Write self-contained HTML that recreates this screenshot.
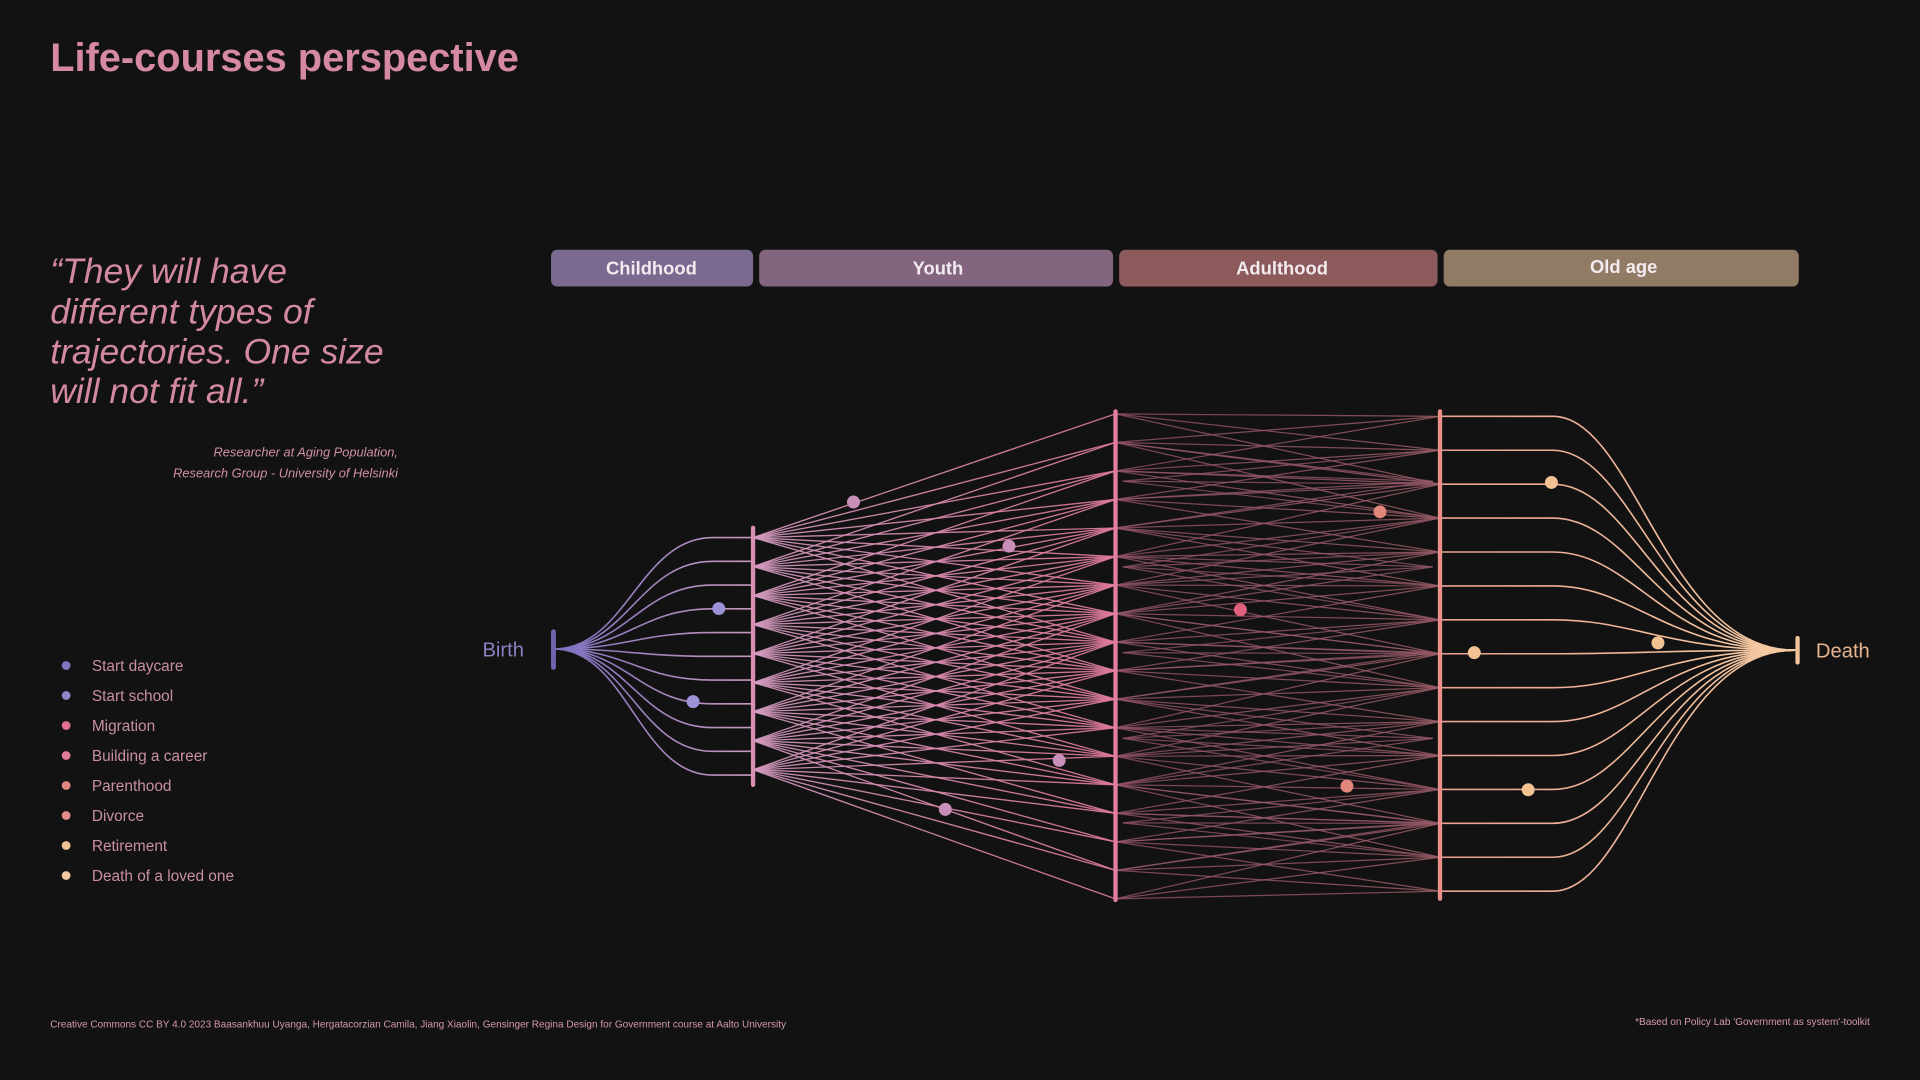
<!DOCTYPE html>
<html><head><meta charset="utf-8"><style>
html,body{margin:0;padding:0;background:#121212;width:1920px;height:1080px;overflow:hidden}
svg{display:block}
text{font-family:"Liberation Sans",sans-serif}
</style></head><body>
<svg id="s" width="1920" height="1080" viewBox="0 0 1568 882" xmlns="http://www.w3.org/2000/svg">
<defs>
<linearGradient id="gc" x1="452" y1="0" x2="615" y2="0" gradientUnits="userSpaceOnUse"><stop offset="0" stop-color="#7d70c0"/><stop offset="1" stop-color="#c898bc"/></linearGradient>
<linearGradient id="gy" x1="615" y1="0" x2="911" y2="0" gradientUnits="userSpaceOnUse"><stop offset="0" stop-color="#d39ac0"/><stop offset="1" stop-color="#e07a9c"/></linearGradient>
<linearGradient id="ga" x1="911" y1="0" x2="1176" y2="0" gradientUnits="userSpaceOnUse"><stop offset="0" stop-color="#94506a"/><stop offset="1" stop-color="#a06068"/></linearGradient>
<linearGradient id="go" x1="1176" y1="0" x2="1468" y2="0" gradientUnits="userSpaceOnUse"><stop offset="0" stop-color="#eaa090"/><stop offset="1" stop-color="#f5cca2"/></linearGradient>
</defs>
<rect width="1568" height="882" fill="#121212"/>
<text x="41" y="58" font-size="32.5" font-weight="bold" fill="#d68aa2">Life-courses perspective</text>
<g font-size="29" font-style="italic" fill="#d48a9e">
<text x="41" y="231">“They will have</text>
<text x="41" y="264">different types of</text>
<text x="41" y="297">trajectories. One size</text>
<text x="41" y="329">will not fit all.”</text>
</g>
<g font-size="10.5" font-style="italic" fill="#d090a4" text-anchor="end">
<text x="325" y="373">Researcher at Aging Population,</text>
<text x="325" y="390">Research Group - University of Helsinki</text>
</g>
<g font-size="12.6" fill="#c8909e">
<circle cx="54" cy="543.5" r="3.6" fill="#7f74bd"/><text x="75" y="548">Start daycare</text>
<circle cx="54" cy="568" r="3.6" fill="#8f86c9"/><text x="75" y="572.5">Start school</text>
<circle cx="54" cy="592.5" r="3.6" fill="#e0708f"/><text x="75" y="597">Migration</text>
<circle cx="54" cy="617" r="3.6" fill="#e07c98"/><text x="75" y="621.5">Building a career</text>
<circle cx="54" cy="641.5" r="3.6" fill="#e38680"/><text x="75" y="646">Parenthood</text>
<circle cx="54" cy="666" r="3.6" fill="#e68c8c"/><text x="75" y="670.5">Divorce</text>
<circle cx="54" cy="690.5" r="3.6" fill="#f0c294"/><text x="75" y="695">Retirement</text>
<circle cx="54" cy="715" r="3.6" fill="#f2c8a0"/><text x="75" y="719.5">Death of a loved one</text>
</g>
<text x="41" y="839" font-size="8.2" fill="#d69aa8">Creative Commons CC BY 4.0 2023 Baasankhuu Uyanga, Hergatacorzian Camila, Jiang Xiaolin, Gensinger Regina Design for Government course at Aalto University</text>
<text x="1527" y="837" font-size="8.2" fill="#d69aa8" text-anchor="end">*Based on Policy Lab 'Government as system'-toolkit</text>
<g font-size="15" font-weight="bold" fill="#f2ecf0" text-anchor="middle">
<rect x="450" y="204" width="165" height="30" rx="5" fill="#7a6a90"/><text x="532" y="224">Childhood</text>
<rect x="620" y="204" width="289" height="30" rx="5" fill="#846580"/><text x="766" y="224">Youth</text>
<rect x="914" y="204" width="260" height="30" rx="5" fill="#8d5a5c"/><text x="1047" y="224">Adulthood</text>
<rect x="1179" y="204" width="290" height="30" rx="5" fill="#917b65"/><text x="1326" y="223">Old age</text>
</g>
<text x="394" y="536" font-size="16.5" fill="#8a80c2">Birth</text>
<text x="1483" y="537" font-size="16.5" fill="#e8b58e">Death</text>
<g id="lines" fill="none"></g>
<g id="dots"></g>
</svg>
<script>
var NS="http://www.w3.org/2000/svg",L=document.getElementById('lines'),D=document.getElementById('dots');
function p(d,st,w,op){var e=document.createElementNS(NS,'path');e.setAttribute('d',d);e.setAttribute('stroke',st);e.setAttribute('stroke-width',w);if(op)e.setAttribute('stroke-opacity',op);L.appendChild(e);}
var bx=452,by=530,cx=615,yx=911,ox=1176,dx=1466,dy=531;
for(var i=0;i<11;i++){var y=439+i*19.4;p('M'+bx+' '+by+' C'+(bx+60)+' '+by+' '+(bx+70)+' '+y+' '+(bx+130)+' '+y+' L'+cx+' '+y,'url(#gc)',1.3);}
var cn=[];for(i=0;i<9;i++)cn.push(439+i*23.7);
var yn=[];for(i=0;i<18;i++)yn.push(338+i*23.3);
var on=[];for(i=0;i<15;i++)on.push(340+i*27.7);
cn.forEach(function(a){yn.forEach(function(b){if(Math.abs(b-a)<=106)p('M'+cx+' '+a+' L'+yx+' '+b,'url(#gy)',1.1,0.9);});});
yn.forEach(function(a){on.forEach(function(b){if(Math.abs(b-a)<=62)p('M'+yx+' '+a+' L'+ox+' '+b,'url(#ga)',1,0.8);});});
var F=[393,463,533,603,672];
F.forEach(function(f){on.forEach(function(b){if(Math.abs(b-f)<=45)p('M'+(yx+6)+' '+f+' L'+ox+' '+b,'#8e5266',1,0.8);});
 yn.forEach(function(b){if(Math.abs(b-f)<=45)p('M'+yx+' '+b+' L'+(ox-6)+' '+f,'#94586a',1,0.8);});});
on.forEach(function(y){p('M'+ox+' '+y+' L1268 '+y+' C1335 '+y+' 1360 '+dy+' '+dx+' '+dy,'url(#go)',1.3);});
function bar(x,y1,y2,c,w){var e=document.createElementNS(NS,'line');e.setAttribute('x1',x);e.setAttribute('x2',x);e.setAttribute('y1',y1);e.setAttribute('y2',y2);e.setAttribute('stroke',c);e.setAttribute('stroke-width',w);e.setAttribute('stroke-linecap','round');D.appendChild(e);}
bar(452,516,545,'#6e64b0',4);
bar(615,431,641,'#d890b4',3.5);
bar(911,336,735,'#e47ea0',3.5);
bar(1176,336,734,'#ea9088',3.5);
bar(1468,521,541,'#f2c49c',3.5);
function dot(x,y,c){var e=document.createElementNS(NS,'circle');e.setAttribute('cx',x);e.setAttribute('cy',y);e.setAttribute('r',5.3);e.setAttribute('fill',c);D.appendChild(e);}
dot(587,497,'#9c92d6');dot(566,573,'#9c92d6');
dot(697,410,'#c890b8');dot(824,446,'#c890b8');dot(865,621,'#c890b8');dot(772,661,'#c890b8');
dot(1013,498,'#e0607e');dot(1127,418,'#e2857a');dot(1100,642,'#e2857a');
dot(1267,394,'#f2c292');dot(1204,533,'#f2c292');dot(1354,525,'#f2c292');dot(1248,645,'#f2c292');
</script>
</body></html>
